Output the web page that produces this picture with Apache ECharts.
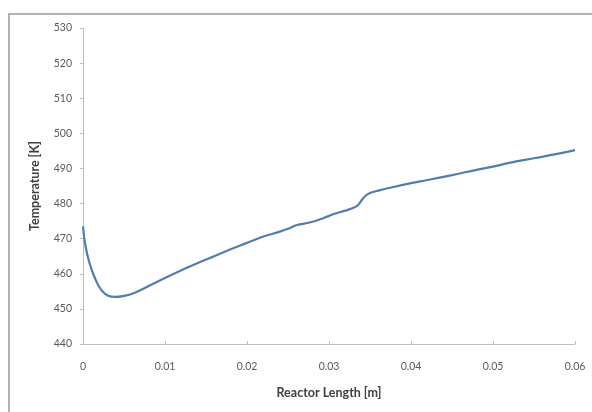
<!DOCTYPE html>
<html>
<head>
<meta charset="utf-8">
<script src="https://cdn.jsdelivr.net/npm/echarts@6/dist/echarts.min.js"></script>
<style>
  html, body { margin: 0; padding: 0; background: #ffffff; }
  #chart { width: 592px; height: 412px; }
</style>
</head>
<body>
<div id="chart"></div>
<script>
// Temperature profile along the reactor
const reactorLength = [
  0, 0.0003, 0.0008, 0.0015, 0.0022, 0.003, 0.004, 0.005, 0.006, 0.008,
  0.010, 0.012, 0.014, 0.016, 0.018, 0.020, 0.022, 0.024, 0.025, 0.026,
  0.027, 0.028, 0.029, 0.030, 0.031, 0.032, 0.033, 0.0335, 0.034, 0.0345,
  0.035, 0.036, 0.038, 0.040, 0.042, 0.045, 0.048, 0.050, 0.052, 0.055,
  0.058, 0.060
];
const temperature = [
  473.5, 468.0, 463.0, 458.5, 455.5, 453.8, 453.4, 453.7, 454.3, 456.5,
  458.8, 461.0, 463.1, 465.0, 467.0, 468.8, 470.6, 472.0, 472.8, 473.8,
  474.3, 474.8, 475.6, 476.5, 477.3, 478.0, 478.8, 479.5, 481.0, 482.3,
  483.0, 483.7, 484.8, 485.8, 486.7, 488.1, 489.6, 490.5, 491.6, 492.9,
  494.2, 495.2
];
const xTicks = { min: 0, max: 0.06, step: 0.01 };
const yTicks = { min: 440, max: 530, step: 10 };

const chart = echarts.init(document.getElementById('chart'), null, { renderer: 'canvas' });
const font = 'Lato, "Open Sans", sans-serif';

chart.setOption({
  animation: false,
  backgroundColor: '#ffffff',
  graphic: [{
    type: 'rect',
    shape: { x: 9, y: 14, width: 640, height: 460 },
    style: { fill: 'none', stroke: '#9a9a9a', lineWidth: 1.5 },
    silent: true
  }],
  grid: { left: 83, top: 28, right: 17, bottom: 68 },
  xAxis: {
    type: 'value',
    min: xTicks.min, max: xTicks.max, interval: xTicks.step,
    name: 'Reactor Length [m]',
    nameLocation: 'middle',
    nameGap: 42,
    nameTextStyle: { fontFamily: font, fontSize: 12.5, fontWeight: 'bold', color: '#404040' },
    axisLine: { lineStyle: { color: '#bfbfbf', width: 1 } },
    axisTick: { show: true, length: 3, inside: true, lineStyle: { color: '#bfbfbf' } },
    axisLabel: { fontFamily: font, fontSize: 10.5, color: '#595959', margin: 17 },
    splitLine: { show: false }
  },
  yAxis: {
    type: 'value',
    min: yTicks.min, max: yTicks.max, interval: yTicks.step,
    name: 'Temperature [K]',
    nameLocation: 'middle',
    nameGap: 42,
    nameTextStyle: { fontFamily: font, fontSize: 12.5, fontWeight: 'bold', color: '#404040' },
    axisLine: { show: true, lineStyle: { color: '#bfbfbf', width: 1 } },
    axisTick: { show: true, length: 3, lineStyle: { color: '#bfbfbf' } },
    axisLabel: { fontFamily: font, fontSize: 10.5, color: '#595959', margin: 11 },
    splitLine: { show: false }
  },
  series: [{
    type: 'line',
    data: reactorLength.map((x, i) => [x, temperature[i]]),
    smooth: 0.4,
    showSymbol: false,
    lineStyle: { color: '#4f7db5', width: 2.2 }
  }]
});
</script>
</body>
</html>
